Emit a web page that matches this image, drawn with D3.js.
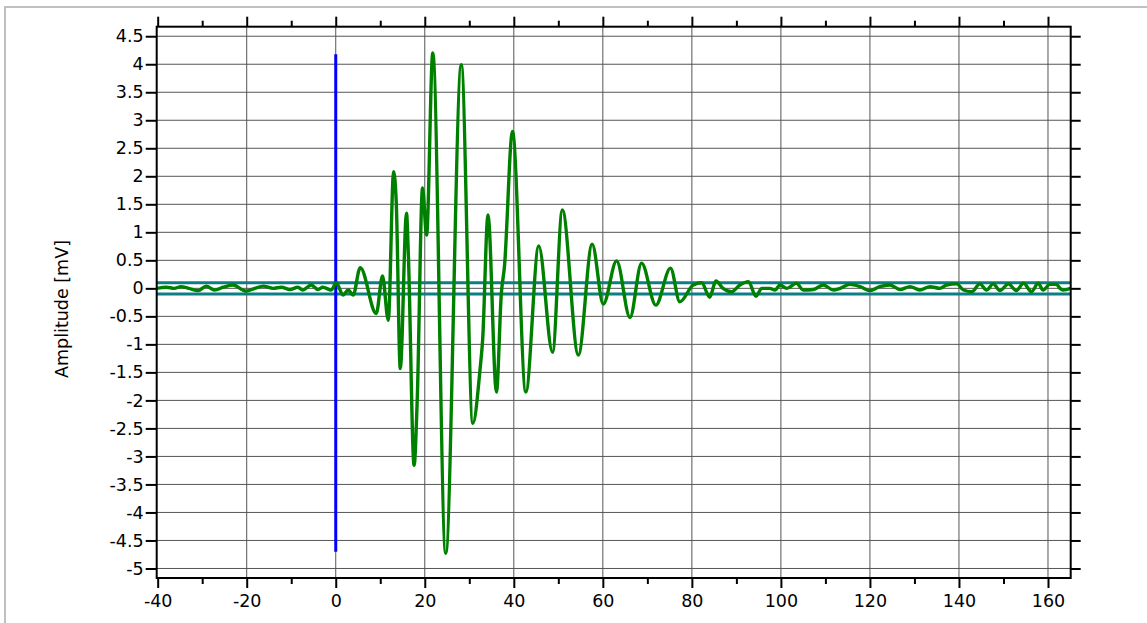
<!DOCTYPE html>
<html>
<head>
<meta charset="utf-8">
<script src="https://cdn.jsdelivr.net/npm/d3@7/dist/d3.min.js"></script>
<style>
  html, body { margin: 0; padding: 0; background: #fff; }
  svg { display: block; }
  text { font-family: "DejaVu Sans", Verdana, sans-serif; }
</style>
</head>
<body>
<svg id="chart" width="1147" height="623"></svg>
<script>
// ---------- data ----------
const sampleTime = [
  -40.2, -38.0, -36.3, -34.8, -33.0, -30.9, -29.1, -27.2, -25.3, -23.1,
  -20.1, -18.2, -16.3, -14.1, -12.2, -10.3, -8.5, -7.4, -5.5, -4.0,
  -2.9, -1.0, 0.1, 1.65, 2.8, 3.9, 5.5, 9.1, 10.5, 11.8,
  13.0, 13.6, 14.5, 15.9, 16.3, 17.6, 18.3, 19.5, 20.4, 21.8,
  24.7, 28.2, 30.8, 32.4, 33.0, 34.2, 36.1, 37.2, 37.9, 39.7,
  42.7, 45.6, 48.7, 50.9, 54.5, 57.6, 60.1, 63.1, 66.1, 68.7,
  71.9, 75.2, 77.3, 80.3, 82.2, 84.0, 85.4, 87.0, 88.9, 90.8,
  92.7, 94.4, 95.7, 97.5, 98.7, 99.8, 101.3, 103.5, 105.0, 107.3,
  109.5, 111.8, 113.3, 115.5, 117.8, 120.0, 122.2, 124.5, 126.7, 129.0,
  131.2, 133.5, 135.7, 137.2, 139.5, 141.0, 142.9, 144.7, 146.2, 147.7,
  149.2, 151.1, 152.9, 154.5, 156.3, 157.8, 158.9, 160.4, 161.9, 162.7,
  163.4, 165.1
];
const sampleAmp = [
  0.0, 0.02, 0.0, 0.03, 0.0, -0.04, 0.04, -0.03, 0.02, 0.06,
  -0.05, 0.0, 0.04, 0.0, 0.02, -0.02, 0.02, -0.03, 0.06, -0.02,
  0.02, -0.03, 0.1, -0.12, -0.03, -0.12, 0.37, -0.45, 0.22, -0.57,
  2.08, 1.52, -1.43, 1.34, 0.63, -3.16, -2.0, 1.79, 0.95, 4.2,
  -4.73, 3.99, -2.41, -1.46, -0.92, 1.31, -1.85, -0.09, 0.39, 2.80,
  -1.85, 0.755, -1.14, 1.40, -1.19, 0.79, -0.28, 0.49, -0.52, 0.45,
  -0.30, 0.36, -0.24, 0.06, 0.10, -0.16, 0.13, 0.0, -0.06, 0.06,
  0.12, -0.14, 0.0, 0.0, -0.03, 0.06, 0.0, 0.09, -0.03, -0.02,
  0.06, -0.03, 0.0, 0.07, 0.03, -0.04, 0.03, 0.06, -0.02, 0.03,
  -0.03, 0.03, 0.0, 0.06, 0.08, -0.03, -0.06, 0.08, -0.03, 0.08,
  -0.04, 0.08, -0.04, 0.09, -0.06, 0.09, -0.03, 0.07, 0.07, 0.0,
  -0.03, 0.0
];
const thresholds = [0.1, -0.1];
const markerTime = [0];
const markerRange = [-4.70, 4.18];
const xMajorTicks = [-40, -20, 0, 20, 40, 60, 80, 100, 120, 140, 160];
const xMinorTicks = [-30, -10, 10, 30, 50, 70, 90, 110, 130, 150];
const yTicks = [4.5, 4, 3.5, 3, 2.5, 2, 1.5, 1, 0.5, 0, -0.5, -1, -1.5, -2, -2.5, -3, -3.5, -4, -4.5, -5];
const xDomain = [-40.22, 165.1];
const yDomain = [-5.17, 4.67];
const yLabel = "Amplitude [mV]";

// ---------- layout ----------
const FONT = "'DejaVu Sans', Verdana, sans-serif";
const FS = 17.5;
const svg = d3.select("#chart");
const L = 156.7, R = 1070.7, T = 26.7, B = 578;
const x = d3.scaleLinear().domain(xDomain).range([L, R]);
const y = d3.scaleLinear().domain(yDomain).range([B, T]);

// outer frame (partial window border)
svg.append("line").attr("x1", 5).attr("x2", 5).attr("y1", 6).attr("y2", 623)
  .attr("stroke", "#c0c0c0").attr("stroke-width", 2);
svg.append("line").attr("x1", 4).attr("x2", 1147).attr("y1", 7).attr("y2", 7)
  .attr("stroke", "#c0c0c0").attr("stroke-width", 2);

// grid
const grid = svg.append("g").attr("stroke", "#555").attr("stroke-width", 1);
grid.selectAll("line.h").data(yTicks).join("line").attr("class", "h")
  .attr("x1", L).attr("x2", R).attr("y1", d => y(d)).attr("y2", d => y(d));
grid.selectAll("line.v").data(xMajorTicks.filter(d => d > -40)).join("line").attr("class", "v")
  .attr("y1", T).attr("y2", B).attr("x1", d => x(d)).attr("x2", d => x(d));

// clip
svg.append("clipPath").attr("id", "clip").append("rect")
  .attr("x", L).attr("y", T).attr("width", R - L).attr("height", B - T);
const plot = svg.append("g").attr("clip-path", "url(#clip)");

// threshold lines
plot.selectAll("line.thr").data(thresholds).join("line").attr("class", "thr")
  .attr("x1", L).attr("x2", R).attr("y1", d => y(d)).attr("y2", d => y(d))
  .attr("stroke", "#0a7f86").attr("stroke-width", 3);

// marker
plot.selectAll("line.mk").data(markerTime).join("line").attr("class", "mk")
  .attr("x1", d => x(d)).attr("x2", d => x(d))
  .attr("y1", y(markerRange[1])).attr("y2", y(markerRange[0]))
  .attr("stroke", "#0000ff").attr("stroke-width", 3);

// signal
const pts = sampleTime.map((t, i) => [t, sampleAmp[i]]);
const line = d3.line().x(d => x(d[0])).y(d => y(d[1])).curve(d3.curveMonotoneX);
plot.append("path").datum(pts).attr("d", line)
  .attr("fill", "none").attr("stroke", "#008000").attr("stroke-width", 3.4)
  .attr("stroke-linejoin", "round");

// axes
const fmt = d => String(d);
function styleAxis(g) {
  g.selectAll(".domain").remove();
  g.selectAll(".tick line").attr("stroke", "#000").attr("stroke-width", 2);
  g.selectAll("text").attr("font-size", FS).attr("fill", "#000")
   .attr("font-family", FONT);
}
svg.append("g").attr("transform", `translate(${L},0)`)
  .call(d3.axisLeft(y).tickValues(yTicks).tickFormat(fmt).tickSize(11).tickPadding(2))
  .call(styleAxis);
svg.append("g").attr("transform", `translate(${R},0)`)
  .call(d3.axisRight(y).tickValues(yTicks).tickFormat("").tickSize(10))
  .call(styleAxis);
svg.append("g").attr("transform", `translate(0,${B})`)
  .call(d3.axisBottom(x).tickValues(xMajorTicks).tickFormat(fmt).tickSize(10).tickPadding(7))
  .call(styleAxis);
svg.append("g").attr("transform", `translate(0,${B})`)
  .call(d3.axisBottom(x).tickValues(xMinorTicks).tickFormat("").tickSize(6))
  .call(styleAxis);
svg.append("g").attr("transform", `translate(0,${T})`)
  .call(d3.axisTop(x).tickValues(xMajorTicks).tickFormat("").tickSize(10))
  .call(styleAxis);
svg.append("g").attr("transform", `translate(0,${T})`)
  .call(d3.axisTop(x).tickValues(xMinorTicks).tickFormat("").tickSize(6))
  .call(styleAxis);

// frame
svg.append("rect").attr("x", L).attr("y", T).attr("width", R - L).attr("height", B - T)
  .attr("fill", "none").attr("stroke", "#000").attr("stroke-width", 2);

// y label
svg.append("text").attr("transform", `translate(68,309) rotate(-90)`)
  .attr("text-anchor", "middle").attr("font-size", FS).attr("fill", "#000")
  .attr("font-family", FONT)
  .text(yLabel);
</script>
</body>
</html>
